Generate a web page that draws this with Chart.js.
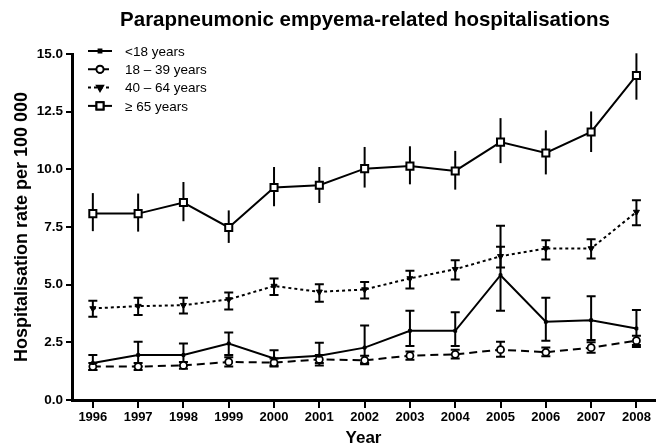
<!DOCTYPE html>
<html>
<head>
<meta charset="utf-8">
<script src="https://cdn.jsdelivr.net/npm/chart.js@4.4.1/dist/chart.umd.min.js"></script>
<style>
  html, body { margin: 0; padding: 0; background: #fff; }
  #wrap { width: 662px; height: 445px; }
</style>
</head>
<body>
<div id="wrap"><canvas id="empyema"></canvas></div>
<script>
// Data
const years = [1996, 1997, 1998, 1999, 2000, 2001, 2002, 2003, 2004, 2005, 2006, 2007, 2008];
const yTicks = [0, 2.5, 5, 7.5, 10, 12.5, 15];

const under18    = [1.60, 1.95, 1.95, 2.45, 1.80, 1.92, 2.27, 3.00, 3.00, 5.41, 3.39, 3.46, 3.10];
const under18Lo  = [1.30, 1.45, 1.50, 1.95, 1.50, 1.50, 1.60, 2.34, 2.34, 3.87, 2.57, 2.60, 2.30];
const under18Hi  = [1.95, 2.52, 2.45, 2.93, 2.16, 2.48, 3.23, 3.87, 3.80, 7.55, 4.43, 4.50, 3.90];

const age18to39   = [1.45, 1.45, 1.50, 1.65, 1.62, 1.76, 1.72, 1.92, 1.98, 2.18, 2.07, 2.27, 2.57];
const age18to39Lo = [1.30, 1.30, 1.35, 1.45, 1.45, 1.60, 1.55, 1.75, 1.80, 1.87, 1.90, 2.05, 2.38];
const age18to39Hi = [1.60, 1.60, 1.65, 1.85, 1.80, 1.95, 1.92, 2.10, 2.18, 2.52, 2.28, 2.50, 2.78];

const age40to64   = [3.97, 4.07, 4.11, 4.36, 4.94, 4.69, 4.79, 5.27, 5.67, 6.23, 6.57, 6.57, 8.15];
const age40to64Lo = [3.61, 3.68, 3.75, 3.92, 4.55, 4.26, 4.40, 4.83, 5.22, 5.74, 6.09, 6.13, 7.58];
const age40to64Hi = [4.30, 4.43, 4.43, 4.66, 5.27, 5.02, 5.12, 5.60, 6.06, 6.64, 6.93, 6.97, 8.66];

const age65plus   = [8.08, 8.08, 8.56, 7.48, 9.21, 9.31, 10.03, 10.14, 9.93, 11.18, 10.71, 11.62, 14.07];
const age65plusLo = [7.32, 7.30, 7.75, 6.81, 8.40, 8.54, 9.21, 9.35, 9.12, 10.27, 9.78, 10.75, 13.02];
const age65plusHi = [8.97, 8.95, 9.45, 8.22, 10.10, 10.10, 10.97, 11.00, 10.80, 12.22, 11.69, 12.51, 15.03];

const FONT = "Arial, 'Liberation Sans', sans-serif";

function toPoints(values) {
    return years.map((yr, i) => ({ x: yr, y: values[i] }));
}

function series(label, values, lo, hi, extra) {
    return Object.assign({
        label: label,
        data: toPoints(values),
        errLo: lo,
        errHi: hi,
        capWidth: 4.5,
        borderColor: "#000",
        borderWidth: 2,
        pointBorderColor: "#000",
        pointBorderWidth: 2,
        pointBackgroundColor: "#000",
        fill: false,
        tension: 0
    }, extra);
}

const datasets = [
    series("<18 years", under18, under18Lo, under18Hi,
        { pointStyle: "rect", pointRadius: 2, pointBorderWidth: 1 }),
    series("18 \u2013 39 years", age18to39, age18to39Lo, age18to39Hi,
        { borderDash: [8, 5], pointStyle: "circle", pointRadius: 3.5, pointBorderWidth: 1.8, pointBackgroundColor: "#fff" }),
    series("40 \u2013 64 years", age40to64, age40to64Lo, age40to64Hi,
        { borderDash: [3, 3], pointStyle: "triangle", pointRotation: 180, pointRadius: 3.5, pointBorderWidth: 1 }),
    series("\u2265 65 years", age65plus, age65plusLo, age65plusHi,
        { pointStyle: "rect", pointRadius: 5, pointBackgroundColor: "#fff", capWidth: 0 })
];

// error bars, drawn under the markers
const errorBars = {
    id: "errorBars",
    beforeDatasetsDraw(chart) {
        const ctx = chart.ctx;
        const xs = chart.scales.x, ys = chart.scales.y;
        ctx.save();
        ctx.strokeStyle = "#000";
        ctx.lineWidth = 2;
        chart.data.datasets.forEach(ds => {
            ds.data.forEach((p, i) => {
                const x = xs.getPixelForValue(p.x);
                const yLo = ys.getPixelForValue(ds.errLo[i]);
                const yHi = ys.getPixelForValue(ds.errHi[i]);
                ctx.beginPath();
                ctx.moveTo(x, yLo);
                ctx.lineTo(x, yHi);
                if (ds.capWidth > 0) {
                    ctx.moveTo(x - ds.capWidth, yLo);
                    ctx.lineTo(x + ds.capWidth, yLo);
                    ctx.moveTo(x - ds.capWidth, yHi);
                    ctx.lineTo(x + ds.capWidth, yHi);
                }
                ctx.stroke();
            });
        });
        ctx.restore();
    }
};

// title and the legend in the top-left of the plot
const overlay = {
    id: "overlay",
    afterDraw(chart) {
        const ctx = chart.ctx;
        ctx.save();
        ctx.fillStyle = "#000";
        ctx.font = "bold 20.5px " + FONT;
        ctx.textAlign = "center";
        ctx.textBaseline = "middle";
        ctx.fillText("Parapneumonic empyema-related hospitalisations", 365, 20);

        ctx.font = "13.5px " + FONT;
        ctx.textAlign = "left";
        chart.data.datasets.forEach((ds, i) => {
            const y = 51 + i * 18.3;
            ctx.strokeStyle = "#000";
            ctx.lineWidth = 2;
            ctx.setLineDash(ds.borderDash || []);
            ctx.beginPath();
            ctx.moveTo(88, y);
            ctx.lineTo(112, y);
            ctx.stroke();
            ctx.setLineDash([]);
            Chart.helpers.drawPoint(ctx, {
                pointStyle: ds.pointStyle,
                rotation: ds.pointRotation || 0,
                radius: ds.pointRadius,
                borderWidth: ds.pointBorderWidth
            }, 100, y);
            ctx.fillStyle = ds.pointBackgroundColor;
            ctx.strokeStyle = "#000";
            ctx.lineWidth = ds.pointBorderWidth;
            ctx.fill();
            ctx.stroke();
            ctx.fillStyle = "#000";
            ctx.fillText(ds.label, 125, y + 1);
        });
        ctx.restore();
    }
};

new Chart(document.getElementById("empyema"), {
    type: "line",
    data: { datasets: datasets },
    plugins: [errorBars, overlay],
    options: {
        responsive: true,
        maintainAspectRatio: false,
        animation: false,
        layout: { padding: { top: 54, right: 0, left: 0, bottom: 0 } },
        plugins: {
            legend: { display: false },
            tooltip: { enabled: false }
        },
        scales: {
            x: {
                type: "linear",
                min: 1995.54,
                max: 2008.41,
                afterBuildTicks: s => { s.ticks = years.map(v => ({ value: v })); },
                afterFit: s => { s.height = 45; },
                border: { display: true, color: "#000", width: 3 },
                grid: { drawOnChartArea: false, drawTicks: true, tickLength: 8, color: "#000", lineWidth: 2 },
                ticks: {
                    padding: 2,
                    color: "#000",
                    font: { family: FONT, size: 13, weight: "bold" },
                    callback: v => String(v)
                },
                title: {
                    display: true,
                    text: "Year",
                    color: "#000",
                    font: { family: FONT, size: 17, weight: "bold" },
                    padding: { top: 0, bottom: -4 }
                }
            },
            y: {
                min: 0,
                max: 15,
                afterBuildTicks: s => { s.ticks = yTicks.map(v => ({ value: v })); },
                afterFit: s => { s.width = 72; },
                border: { display: true, color: "#000", width: 3 },
                grid: { drawOnChartArea: false, drawTicks: true, tickLength: 6, color: "#000", lineWidth: 2 },
                ticks: {
                    padding: 3,
                    color: "#000",
                    font: { family: FONT, size: 13.5, weight: "bold" },
                    callback: v => v.toFixed(1)
                },
                title: {
                    display: true,
                    text: "Hospitalisation rate per 100 000",
                    color: "#000",
                    font: { family: FONT, size: 18, weight: "bold" },
                    padding: { top: 11, bottom: 0 }
                }
            }
        }
    }
});
</script>
</body>
</html>
